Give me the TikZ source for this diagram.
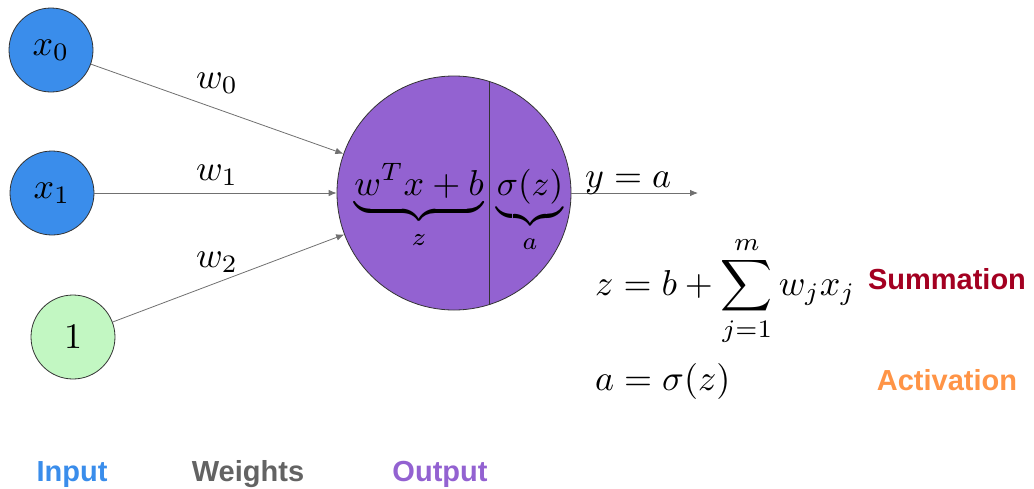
\documentclass[tikz,border=0pt]{standalone}
\usepackage{fontspec}
\usetikzlibrary{arrows.meta}
\newfontfamily\labfont{Liberation Sans}
\newcommand{\M}[1]{\scalebox{3.6}{$#1$}}
\definecolor{inblue}{HTML}{3A8DEB}
\definecolor{outpurple}{HTML}{9362D1}
\definecolor{biasgreen}{HTML}{C2F7C2}
\definecolor{sumred}{HTML}{A30021}
\definecolor{actorange}{HTML}{FF9446}
\definecolor{wgray}{HTML}{636363}
\definecolor{arrgray}{HTML}{707070}
\begin{document}
\begin{tikzpicture}[x=1pt,y=-1pt,
  unit/.style={circle,draw=black!80,line width=0.8pt,minimum size=84pt,inner sep=0pt},
  inp/.style={unit,fill=inblue},
  bias/.style={unit,fill=biasgreen},
  neuron/.style={circle,draw=black!80,line width=0.8pt,fill=outpurple,minimum size=234pt,inner sep=0pt},
  arr/.style={draw=arrgray,line width=0.8pt,-{Latex[length=8pt,width=6.5pt]}},
  mtxt/.style={inner sep=0pt,anchor=base west},
  lab/.style={font=\labfont\bfseries\fontsize{29}{33}\selectfont,inner sep=0pt,anchor=base}]
\useasboundingbox (0,0) rectangle (1034,488);
\node[inp] (x0) at (51,50) {\M{x_0}};
\node[inp] (x1) at (52,193) {\M{x_1}};
\node[bias] (one) at (73,337) {\M{1}};
\node[neuron] (N) at (454,193) {};
\draw[black!80,line width=0.8pt] (489,81.6) -- (489,304.4);
\draw[arr] (x0) -- (N);
\draw[arr] (x1) -- (N);
\draw[arr] (one) -- (N);
\coordinate (out) at (698,193);
\draw[arr] (N.east) -- (out);
\node[mtxt] (w0) at (196,88) {\M{w_0}};
\node[mtxt] (w1) at (196,180) {\M{w_1}};
\node[mtxt] (w2) at (196,267) {\M{w_2}};
\node[inner sep=0pt,anchor=base] (zp) at (419,195) {\M{\underbrace{w^Tx+b}_{z}}};
\node[inner sep=0pt,anchor=base] (ap) at (530,195) {\scalebox{3.5}{$\underbrace{\sigma(z)}_{a}$}};
\node[mtxt] (ya) at (585,187) {\M{y=a}};
\node[mtxt] (zeq) at (595,295) {\M{\displaystyle z=b+\sum_{j=1}^{m}w_jx_j}};
\node[mtxt] (aeq) at (595,390) {\M{a=\sigma(z)}};
\node[lab,text=sumred] (sum) at (947,289) {Summation};
\node[lab,text=actorange] (act) at (947,390) {Activation};
\node[lab,text=inblue] (in) at (72,481) {Input};
\node[lab,text=wgray] (wt) at (248,481) {Weights};
\node[lab,text=outpurple] (op) at (440,481) {Output};
\end{tikzpicture}
\end{document}
